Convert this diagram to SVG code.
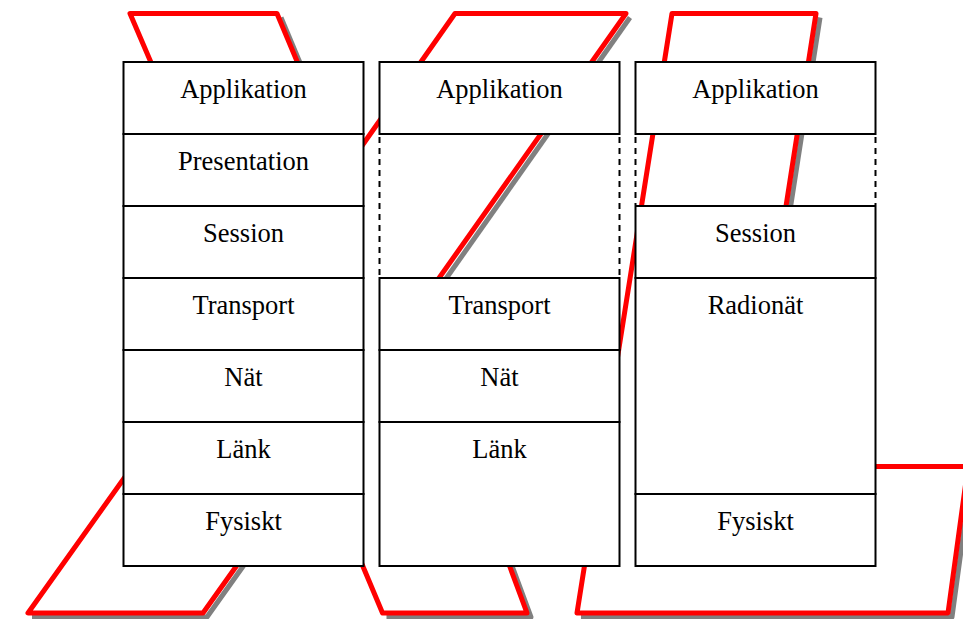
<svg xmlns="http://www.w3.org/2000/svg" width="963" height="619" viewBox="0 0 963 619">
  <style>
    .band { fill: none; stroke: #ff0000; stroke-width: 5; stroke-linejoin: round; stroke-linecap: butt; }
    .shade { fill: none; stroke: #808080; stroke-width: 5; stroke-linejoin: round; }
    .layer { fill: #ffffff; stroke: #000000; stroke-width: 2; }
    .gap { fill: none; stroke: #000000; stroke-width: 2; stroke-dasharray: 6 5; }
    .lbl { font-size: 26.5px; fill: #000000; text-anchor: middle; }
  </style>

  <!-- red bands running behind the stacks, with their grey drop shadows -->
  <g id="connectors">
    <g id="shadows">
      <path class="shade" d="M281,17.5 L303,70"/>
      <path class="shade" d="M630,17.5 L436.6,292"/>
      <path class="shade" d="M32,617 L207,617 L244,565"/>
      <path class="shade" d="M386.5,617 L531,617 L511,563"/>
      <path class="shade" d="M820,17.5 L786,236"/>
      <path class="shade" d="M581,617 L952,617 L972,470"/>
    </g>
    <path class="band" d="M152.5,66 L130,13.5 L277,13.5 L299,66"/>
    <path class="band" d="M352,160 L455,13.5 L626,13.5 L432,288"/>
    <path class="band" d="M128.5,472 L28,613 L203,613 L240,561"/>
    <path class="band" d="M359,557 L382.5,613 L527,613 L507,559"/>
    <path class="band" d="M782,232 L816,13.5 L672,13.5 L577,613 L948,613 L968,466.5 L850,466.5"/>
  </g>

  <g font-family="'Liberation Serif', 'DejaVu Serif', 'Times New Roman', serif">
  <!-- stack 1: full seven-layer model -->
  <g id="stack1">
    <g id="s1-applikation"><rect class="layer" x="123.5" y="62" width="240" height="72"/><text class="lbl" x="243.5" y="97.5">Applikation</text></g>
    <g id="s1-presentation"><rect class="layer" x="123.5" y="134" width="240" height="72"/><text class="lbl" x="243.5" y="169.5">Presentation</text></g>
    <g id="s1-session"><rect class="layer" x="123.5" y="206" width="240" height="72"/><text class="lbl" x="243.5" y="241.5">Session</text></g>
    <g id="s1-transport"><rect class="layer" x="123.5" y="278" width="240" height="72"/><text class="lbl" x="243.5" y="313.5">Transport</text></g>
    <g id="s1-nat"><rect class="layer" x="123.5" y="350" width="240" height="72"/><text class="lbl" x="243.5" y="385.5">Nät</text></g>
    <g id="s1-lank"><rect class="layer" x="123.5" y="422" width="240" height="72"/><text class="lbl" x="243.5" y="457.5">Länk</text></g>
    <g id="s1-fysiskt"><rect class="layer" x="123.5" y="494" width="240" height="72"/><text class="lbl" x="243.5" y="529.5">Fysiskt</text></g>
  </g>

  <!-- stack 2 -->
  <g id="stack2">
    <g id="s2-applikation"><rect class="layer" x="379.5" y="62" width="240" height="72"/><text class="lbl" x="499.5" y="97.5">Applikation</text></g>
    <g id="s2-empty">
      <line class="gap" x1="379.5" y1="137" x2="379.5" y2="277"/>
      <line class="gap" x1="619.5" y1="137" x2="619.5" y2="277"/>
    </g>
    <g id="s2-transport"><rect class="layer" x="379.5" y="278" width="240" height="72"/><text class="lbl" x="499.5" y="313.5">Transport</text></g>
    <g id="s2-nat"><rect class="layer" x="379.5" y="350" width="240" height="72"/><text class="lbl" x="499.5" y="385.5">Nät</text></g>
    <g id="s2-lank"><rect class="layer" x="379.5" y="422" width="240" height="144"/><text class="lbl" x="499.5" y="457.5">Länk</text></g>
  </g>

  <!-- stack 3 -->
  <g id="stack3">
    <g id="s3-applikation"><rect class="layer" x="635.5" y="62" width="240" height="72"/><text class="lbl" x="755.5" y="97.5">Applikation</text></g>
    <g id="s3-empty">
      <line class="gap" x1="635.5" y1="137" x2="635.5" y2="205"/>
      <line class="gap" x1="875.5" y1="137" x2="875.5" y2="205"/>
    </g>
    <g id="s3-session"><rect class="layer" x="635.5" y="206" width="240" height="72"/><text class="lbl" x="755.5" y="241.5">Session</text></g>
    <g id="s3-radionat"><rect class="layer" x="635.5" y="278" width="240" height="216"/><text class="lbl" x="755.5" y="313.5">Radionät</text></g>
    <g id="s3-fysiskt"><rect class="layer" x="635.5" y="494" width="240" height="72"/><text class="lbl" x="755.5" y="529.5">Fysiskt</text></g>
  </g>
  </g>
</svg>
